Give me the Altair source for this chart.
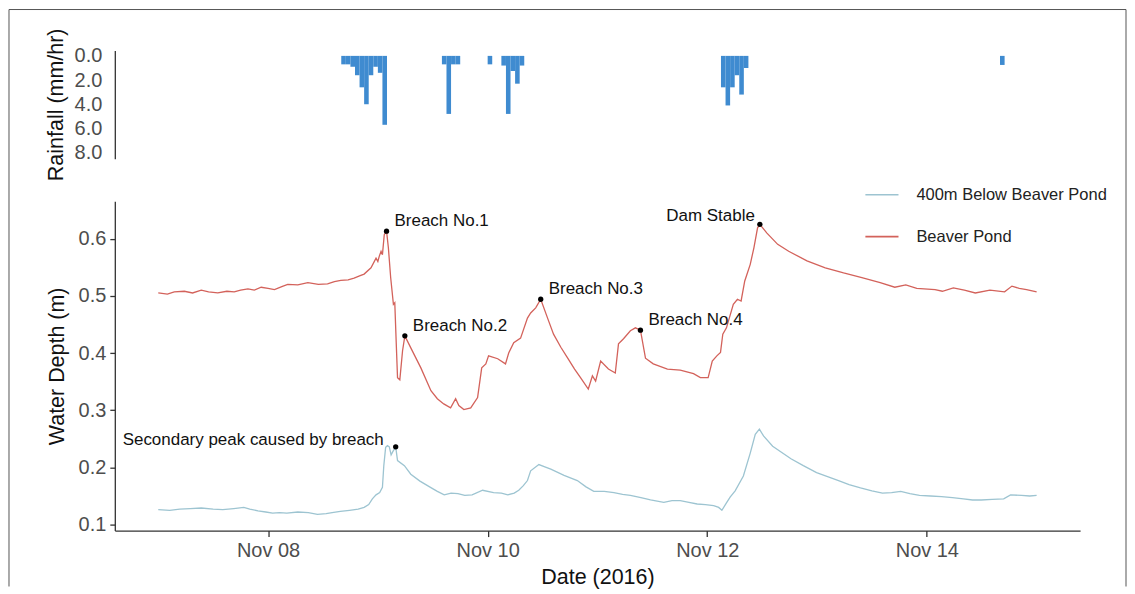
import altair as alt
import pandas as pd

# ---------------- data (hours since 2016-11-07 00:00) ----------------
rain_start_hours = [40, 41, 42, 43, 44, 45, 46, 47, 48, 49,
                    62, 63, 64, 65,
                    72,
                    75, 76, 77, 78, 79,
                    123, 124, 125, 126, 127, 128,
                    184]
rain_mm = [0.7, 0.7, 0.9, 1.6, 2.6, 4.0, 1.6, 0.9, 1.4, 5.7,
           0.7, 4.8, 0.7, 0.7,
           0.7,
           0.8, 4.8, 1.25, 2.3, 0.8,
           2.6, 4.1, 2.6, 1.6, 3.2, 1.0,
           0.75]

pond_hours = [0, 2, 3.5, 5.7, 7.5, 9.4, 11, 13, 15, 16.6, 18, 19.6, 21, 22.5, 24, 25.4, 27, 28.3,
              30.5, 32.7, 35, 37, 38.5, 39.9, 41.5, 42.8, 44, 45, 46.5, 47.6, 48.0, 48.3, 48.7,
              49.0, 49.4, 49.9, 50.3, 50.8, 51.4, 51.7, 52.0, 52.3, 52.8, 53.4, 53.9, 55.2, 57.4,
              59.6, 61, 62.4, 63.9, 65.0, 65.7, 66.8, 68.3, 69.8, 70.7, 71.6, 72.2, 74.2, 75.9,
              76.6, 77.7, 79.2, 80.7, 81.4, 82.5, 83.6, 85.1, 86.4, 88, 89.5, 91, 92.3, 94.0,
              94.9, 95.6, 96.7, 98.4, 99.9, 100.6, 101.7, 103.2, 104.3, 105.4, 106.5, 108.2,
              111.3, 114.1, 117.0, 118.5, 120.2, 121.1, 122.1, 122.9, 123.4, 124.2, 125.7, 126.6,
              127.4, 128.2, 129.4, 130.2, 131.0, 131.5, 133.0, 135.4, 137.8, 141.8, 145.8, 149.8,
              153.8, 157.8, 161.0, 163.4, 165.8, 169.8, 171.4, 173.8, 176.2, 178.6, 181.8, 185.0,
              186.6, 188.2, 189.8, 192]
pond_depth = [0.505, 0.503, 0.507, 0.508, 0.505, 0.510, 0.507, 0.505, 0.508, 0.507, 0.510, 0.512,
              0.510, 0.515, 0.513, 0.511, 0.516, 0.520, 0.519, 0.523, 0.520, 0.521, 0.525, 0.527,
              0.528, 0.531, 0.535, 0.538, 0.549, 0.566, 0.560, 0.569, 0.578, 0.572, 0.607, 0.613,
              0.584, 0.532, 0.485, 0.488, 0.421, 0.357, 0.353, 0.404, 0.430, 0.409, 0.374, 0.334,
              0.320, 0.311, 0.304, 0.320, 0.308, 0.301, 0.304, 0.322, 0.374, 0.381, 0.395, 0.390,
              0.381, 0.400, 0.418, 0.426, 0.461, 0.470, 0.479, 0.494, 0.461, 0.433, 0.410, 0.391,
              0.372, 0.357, 0.337, 0.360, 0.351, 0.386, 0.372, 0.365, 0.416, 0.425, 0.439, 0.444,
              0.440, 0.391, 0.381, 0.372, 0.370, 0.364, 0.357, 0.357, 0.386, 0.395, 0.401, 0.433,
              0.444, 0.485, 0.494, 0.491, 0.526, 0.555, 0.584, 0.619, 0.625, 0.610, 0.590, 0.578,
              0.561, 0.549, 0.540, 0.532, 0.523, 0.515, 0.519, 0.513, 0.511, 0.508, 0.514, 0.510,
              0.505, 0.510, 0.507, 0.517, 0.513, 0.511, 0.507]

below_hours = [0, 2.5, 4.7, 7, 9.4, 12, 14.1, 16.5, 18.7, 20, 21.8, 23.5, 25.0, 26.5, 28.1, 30.5,
               32.8, 34.8, 36.7, 38, 39.8, 41.8, 43.7, 45, 46.0, 46.8, 47.6, 48.4, 49.0, 49.3,
               49.7, 50.1, 50.5, 50.9, 51.3, 51.9, 52.3, 53.8, 55.2, 57.2, 59.5, 61, 62.5, 64,
               65.5, 67, 68.6, 70.9, 73.3, 75, 76.4, 77.8, 78.8, 79.8, 80.7, 81.4, 83.2, 84.5,
               85.8, 88.7, 91.6, 93.5, 95.2, 97.5, 99.6, 101.5, 103.2, 105.5, 107.6, 110.5, 112.3,
               114.1, 116, 117.8, 119.6, 121.4, 122.5, 123.2, 124.2, 125.0, 126.1, 127.9, 129.4,
               130.5, 131.4, 132.3, 134.3, 136.3, 138.3, 141, 143.9, 146.3, 148.7, 151, 153.5,
               156, 158.3, 160.3, 162.3, 164.3, 166.4, 168.8, 171.2, 173.6, 176.0, 178, 179.9,
               182.3, 184.8, 186.3, 188.7, 190.5, 192]
below_depth = [0.126, 0.125, 0.127, 0.128, 0.129, 0.127, 0.126, 0.128, 0.130, 0.127, 0.124, 0.122,
               0.120, 0.121, 0.120, 0.122, 0.121, 0.118, 0.119, 0.121, 0.123, 0.125, 0.127, 0.130,
               0.135, 0.145, 0.152, 0.156, 0.165, 0.203, 0.235, 0.238, 0.236, 0.222, 0.228, 0.236,
               0.212, 0.203, 0.188, 0.176, 0.165, 0.158, 0.152, 0.155, 0.154, 0.151, 0.152, 0.160,
               0.156, 0.155, 0.152, 0.155, 0.160, 0.168, 0.177, 0.194, 0.205, 0.201, 0.197, 0.186,
               0.177, 0.166, 0.158, 0.158, 0.156, 0.153, 0.151, 0.147, 0.143, 0.139, 0.142, 0.142,
               0.139, 0.136, 0.135, 0.133, 0.130, 0.125, 0.138, 0.148, 0.159, 0.185, 0.225, 0.258,
               0.267, 0.255, 0.237, 0.226, 0.215, 0.203, 0.191, 0.184, 0.177, 0.170, 0.164, 0.159,
               0.155, 0.156, 0.158, 0.154, 0.151, 0.150, 0.149, 0.147, 0.145, 0.143, 0.143, 0.144,
               0.145, 0.152, 0.151, 0.150, 0.151]

series_names = ["400m Below Beaver Pond", "Beaver Pond"]
series_colors = ["#9dc4d1", "#d3625b"]

right_labels = ["Breach No.1", "Breach No.2", "Breach No.3", "Breach No.4"]
right_hours = [49.9, 53.9, 83.6, 105.4]
right_depth = [0.613, 0.430, 0.494, 0.440]

left_labels = ["Dam Stable", "Secondary peak caused by breach"]
left_hours = [131.5, 51.9]
left_depth = [0.625, 0.236]

# ---------------- helpers ----------------
BASE = pd.Timestamp("2016-11-07 00:00:00")


def ts(hours):
    return [(BASE + pd.Timedelta(hours=float(h))).strftime("%Y-%m-%dT%H:%M:%S") for h in hours]


rain_df = pd.DataFrame({
    "start": ts(rain_start_hours),
    "end": ts([h + 1 for h in rain_start_hours]),
    "rain": rain_mm,
})

depth_df = pd.concat([
    pd.DataFrame({"time": ts(below_hours), "depth": below_depth, "series": series_names[0]}),
    pd.DataFrame({"time": ts(pond_hours), "depth": pond_depth, "series": series_names[1]}),
])

right_df = pd.DataFrame({"time": ts(right_hours), "depth": right_depth, "label": right_labels})
sec_df = pd.DataFrame({"time": ts(left_hours[1:]), "depth": left_depth[1:], "label": left_labels[1:]})
dam_df = pd.DataFrame({"time": ts(left_hours[:1]), "depth": left_depth[:1], "label": left_labels[:1]})
dots_df = pd.DataFrame({"time": ts(right_hours + left_hours), "depth": right_depth + left_depth})

FONT = "Liberation Sans"
x_domain = [alt.DateTime(year=2016, month=11, date=6, hours=14, minutes=30),
            alt.DateTime(year=2016, month=11, date=15, hours=9, minutes=30)]
x_scale = alt.Scale(domain=x_domain, nice=False)
tick_dates = [alt.DateTime(year=2016, month=11, date=d) for d in (8, 10, 12, 14)]

W = 967
H_RAIN = 108.4
H_DEPTH = 330

# ---------------- rainfall panel ----------------
rain = alt.Chart(rain_df).mark_bar(color="#3f8bd0", stroke=None).encode(
    x=alt.X("start:T", scale=x_scale, axis=None),
    x2="end:T",
    y=alt.Y("rain:Q",
            scale=alt.Scale(domain=[-0.45, 8.5], reverse=True, nice=False, zero=False),
            axis=alt.Axis(title="Rainfall (mm/hr)", values=[0, 2, 4, 6, 8], format=".1f",
                          tickSize=0, labelPadding=13, titleX=-58, titleY=54,
                          titleAngle=270, titleBaseline="middle")),
    y2=alt.datum(0),
).properties(width=W, height=H_RAIN)

# ---------------- water depth panel ----------------
lines = alt.Chart(depth_df).mark_line(strokeWidth=1.3).encode(
    x=alt.X("time:T", scale=x_scale,
            axis=alt.Axis(title="Date (2016)", values=tick_dates, format="%b %d",
                          tickSize=6, labelPadding=4, titleY=47, titleBaseline="middle")),
    y=alt.Y("depth:Q", scale=alt.Scale(domain=[0.0895, 0.6655], nice=False, zero=False),
            axis=alt.Axis(title="Water Depth (m)", values=[0.1, 0.2, 0.3, 0.4, 0.5, 0.6],
                          format=".1f", tickSize=5, labelPadding=4, titleX=-57, titleY=165,
                          titleAngle=270, titleBaseline="middle")),
    color=alt.Color("series:N",
                    scale=alt.Scale(domain=series_names, range=series_colors),
                    legend=alt.Legend(title=None, orient="none", legendX=751, legendY=127,
                                      symbolType="stroke", symbolSize=1100,
                                      symbolStrokeWidth=1.6, labelOffset=17, rowPadding=16,
                                      labelFontSize=16.5, labelFont=FONT, labelColor="#222",
                                      labelLimit=0, padding=0)),
    detail="series:N",
)

dots = alt.Chart(dots_df).mark_circle(size=28, color="black", opacity=1).encode(
    x=alt.X("time:T", scale=x_scale), y="depth:Q")

text_r = alt.Chart(right_df).mark_text(align="left", baseline="middle", dx=8, dy=-10,
                                       fontSize=17, font=FONT, color="#111").encode(
    x=alt.X("time:T", scale=x_scale), y="depth:Q", text="label:N")
text_dam = alt.Chart(dam_df).mark_text(align="right", baseline="middle", dx=-5, dy=-8,
                                       fontSize=17, font=FONT, color="#111").encode(
    x=alt.X("time:T", scale=x_scale), y="depth:Q", text="label:N")
text_sec = alt.Chart(sec_df).mark_text(align="right", baseline="middle", dx=-12, dy=-7,
                                       fontSize=17, font=FONT, color="#111").encode(
    x=alt.X("time:T", scale=x_scale), y="depth:Q", text="label:N")

# thin figure frame (decoration, in pixels relative to the lower panel)
frame_src = pd.DataFrame({"k": [0]})
frame_left = alt.Chart(frame_src).mark_rule(color="#555555", strokeWidth=1).encode(
    x=alt.value(-106), y=alt.value(-192), y2=alt.value(386))
frame_top = alt.Chart(frame_src).mark_rule(color="#555555", strokeWidth=1).encode(
    x=alt.value(-106), x2=alt.value(1013), y=alt.value(-192))
frame_right = alt.Chart(frame_src).mark_rule(color="#555555", strokeWidth=1).encode(
    x=alt.value(1013), y=alt.value(-192), y2=alt.value(386))

depth = alt.layer(lines, dots, text_r, text_dam, text_sec,
                  frame_left, frame_top, frame_right).properties(width=W, height=H_DEPTH)

chart = alt.vconcat(rain, depth, spacing=42, bounds="flush").properties(
    padding={"top": 0, "left": 0, "right": 0, "bottom": 0}
).configure_view(stroke=None).configure_axis(
    grid=False, domainColor="#333333", domainWidth=1.3, tickColor="#333333", tickWidth=1.3,
    labelColor="#4d4d4d", labelFont=FONT, labelFontSize=20, titleFont=FONT,
    titleFontSize=21.5, titleFontWeight="normal", titleColor="#111111",
)

chart.save("out.html", embed_options={"renderer": "svg", "actions": False})
